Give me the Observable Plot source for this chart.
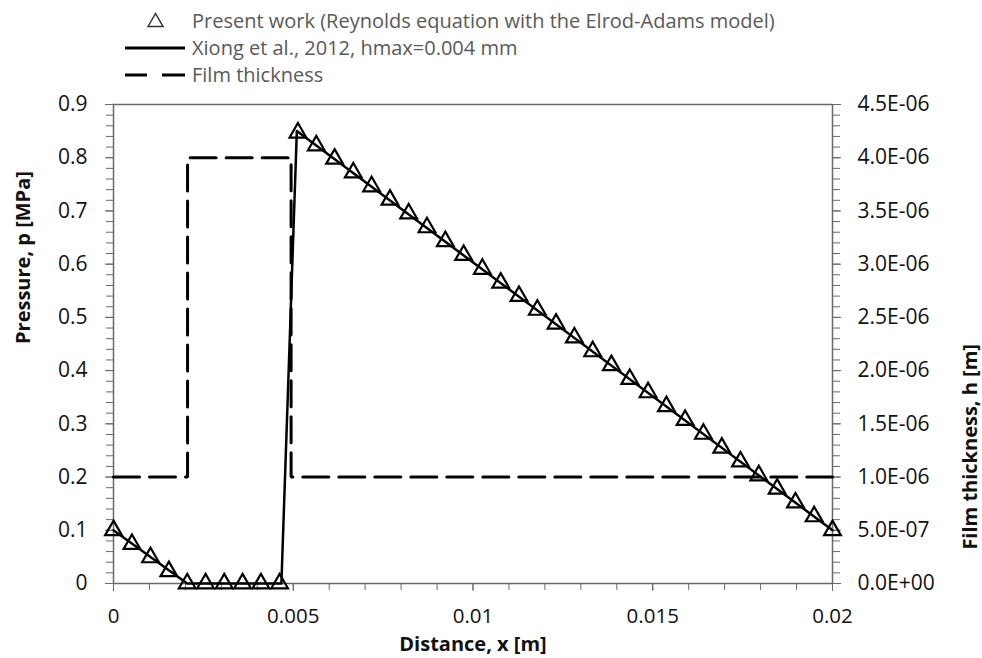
<!DOCTYPE html>
<html>
<head>
<meta charset="utf-8">
<script src="https://cdn.jsdelivr.net/npm/d3@7"></script>
<script src="https://cdn.jsdelivr.net/npm/@observablehq/plot@0.6"></script>
<style>
  html, body { margin: 0; padding: 0; background: #fff; }
  #wrap { position: relative; width: 982px; height: 658px; font-family: "Open Sans", sans-serif; }
  #chart { position: absolute; left: 0; top: 0; }
  .leg { position: absolute; left: 120px; height: 27px; display: flex; align-items: center; font-size: 20px; color: #595959; white-space: nowrap; }
  .leg svg { width: 72px; height: 27px; flex: none; }
</style>
</head>
<body>
<div id="wrap">
  <div id="chart"></div>
</div>
<script>
// ---- Data ----
// Present work (Reynolds equation with the Elrod-Adams model): triangle markers
const presentX = [0, 0.000513, 0.00103, 0.00154, 0.00205, 0.00256, 0.00308, 0.00359, 0.0041, 0.00462,
  0.00513, 0.00564, 0.00615, 0.00667, 0.00718, 0.00769, 0.00821, 0.00872, 0.00923, 0.00974,
  0.01026, 0.01077, 0.01128, 0.01179, 0.01231, 0.01282, 0.01333, 0.01385, 0.01436, 0.01487,
  0.01538, 0.0159, 0.01641, 0.01692, 0.01744, 0.01795, 0.01846, 0.01897, 0.01949, 0.02];
const presentP = [0.1, 0.074, 0.049, 0.023, 0, 0, 0, 0, 0, 0,
  0.847, 0.823, 0.798, 0.772, 0.746, 0.721, 0.695, 0.669, 0.643, 0.617,
  0.591, 0.565, 0.54, 0.514, 0.488, 0.462, 0.436, 0.41, 0.384, 0.359,
  0.333, 0.307, 0.281, 0.255, 0.229, 0.203, 0.178, 0.152, 0.126, 0.1];

// Xiong et al., 2012, hmax=0.004 mm: solid line
const xiongX = [0, 0.00205, 0.00467, 0.0051, 0.02];
const xiongP = [0.1, 0, 0, 0.85, 0.1];

// Film thickness (right axis, m): dashed line
const filmX = [0, 0.00206, 0.00206, 0.00494, 0.00494, 0.02];
const filmH = [1e-6, 1e-6, 4e-6, 4e-6, 1e-6, 1e-6];

// Axes
const xTicks = [0, 0.005, 0.01, 0.015, 0.02];
const xTickLabels = ["0", "0.005", "0.01", "0.015", "0.02"];
const yTicks = [0, 0.1, 0.2, 0.3, 0.4, 0.5, 0.6, 0.7, 0.8, 0.9];
const yTickLabels = ["0", "0.1", "0.2", "0.3", "0.4", "0.5", "0.6", "0.7", "0.8", "0.9"];
const hTickLabels = ["0.0E+00", "5.0E-07", "1.0E-06", "1.5E-06", "2.0E-06", "2.5E-06", "3.0E-06", "3.5E-06", "4.0E-06", "4.5E-06"];
const hMax = 4.5e-6;   // right axis top
const pMax = 0.9;      // left axis top

const xTitle = "Distance, x [m]";
const yTitle = "Pressure, p [MPa]";
const hTitle = "Film thickness, h [m]";
const legendLabels = [
  "Present work (Reynolds equation with the Elrod-Adams model)",
  "Xiong et al., 2012, hmax=0.004 mm",
  "Film thickness"
];

// ---- Build tables ----
const present = presentX.map((x, i) => ({x, p: presentP[i]}));
const xiong = xiongX.map((x, i) => ({x, p: xiongP[i]}));
const film = filmX.map((x, i) => ({x, h: filmH[i]}));
const hToP = h => h * pMax / hMax;

const xMinor = d3.range(0, 0.02001, 0.001);
const yMinor = d3.range(0, 0.9001, 0.02);
const axisColor = "#6a6a6a";
const textColor = "#111";

const chart = Plot.plot({
  width: 982,
  height: 658,
  marginLeft: 113,
  marginRight: 150,
  marginTop: 104,
  marginBottom: 75,
  x: {domain: [0, 0.02]},
  y: {domain: [0, pMax]},
  style: {fontFamily: "Open Sans, sans-serif", fontSize: "21px", background: "white", overflow: "visible"},
  marks: [
    // minor ticks
    Plot.axisX({ticks: xMinor, tickSize: 7, text: null, stroke: axisColor, label: null}),
    Plot.axisY({anchor: "left", ticks: yMinor, tickSize: 7, text: null, stroke: axisColor, label: null}),
    Plot.axisY({anchor: "right", ticks: yMinor, tickSize: 7, text: null, stroke: axisColor, label: null}),
    // major ticks + labels
    Plot.axisX({ticks: xTicks, tickSize: 8, tickPadding: 17, stroke: axisColor, fill: textColor, fontSize: 20.5,
      tickFormat: d => xTickLabels[xTicks.indexOf(d)], label: null}),
    Plot.axisY({anchor: "left", ticks: yTicks, tickSize: 8, tickPadding: 18, stroke: axisColor, fill: textColor,
      tickFormat: d => yTickLabels[Math.round(d * 10)], label: null}),
    Plot.axisY({anchor: "right", ticks: yTicks, tickSize: 8, tickPadding: 17, stroke: axisColor, fill: textColor,
      tickFormat: d => hTickLabels[Math.round(d * 10)], label: null}),
    // frame lines
    Plot.ruleX([0, 0.02], {stroke: axisColor, strokeWidth: 1.5}),
    Plot.ruleY([0, pMax], {stroke: axisColor, strokeWidth: 1.5}),
    // film thickness (dashed)
    Plot.line(film, {x: "x", y: d => hToP(d.h), stroke: "#000", strokeWidth: 3, strokeDasharray: "26,10", strokeLinejoin: "miter"}),
    // Xiong solid line
    Plot.line(xiong, {x: "x", y: "p", stroke: "#000", strokeWidth: 2.5}),
    // present work triangles
    Plot.dot(present, {x: "x", y: "p", symbol: "triangle", r: 6.2, fill: "none", stroke: "#000", strokeWidth: 2.2}),
    // axis titles
    Plot.text([xTitle], {frameAnchor: "bottom", lineAnchor: "middle", dy: 61, fontWeight: "bold", fontSize: 20, fill: textColor}),
    Plot.text([yTitle], {frameAnchor: "left", dx: -90, rotate: -90, fontWeight: "bold", fontSize: 20, fill: textColor}),
    Plot.text([hTitle], {frameAnchor: "right", dx: 138, rotate: -90, fontWeight: "bold", fontSize: 20, fill: textColor})
  ]
});
document.getElementById("chart").appendChild(chart);

// ---- Legend (HTML above the plot area) ----
const wrap = document.getElementById("wrap");
const icons = [
  '<svg viewBox="0 0 72 27"><path d="M28,19.5 L35.5,6.5 L43,19.5 Z" fill="none" stroke="#333" stroke-width="1.5"/></svg>',
  '<svg viewBox="0 0 72 27"><line x1="5" y1="14" x2="65" y2="14" stroke="#000" stroke-width="3"/></svg>',
  '<svg viewBox="0 0 72 27"><line x1="5" y1="14" x2="27" y2="14" stroke="#000" stroke-width="3"/><line x1="42" y1="14" x2="65" y2="14" stroke="#000" stroke-width="3"/></svg>'
];
const rowTops = [7, 34, 61];
legendLabels.forEach((label, i) => {
  const row = document.createElement("div");
  row.className = "leg";
  row.style.top = rowTops[i] + "px";
  row.innerHTML = icons[i] + '<span></span>';
  row.querySelector("span").textContent = label;
  wrap.appendChild(row);
});
</script>
</body>
</html>
